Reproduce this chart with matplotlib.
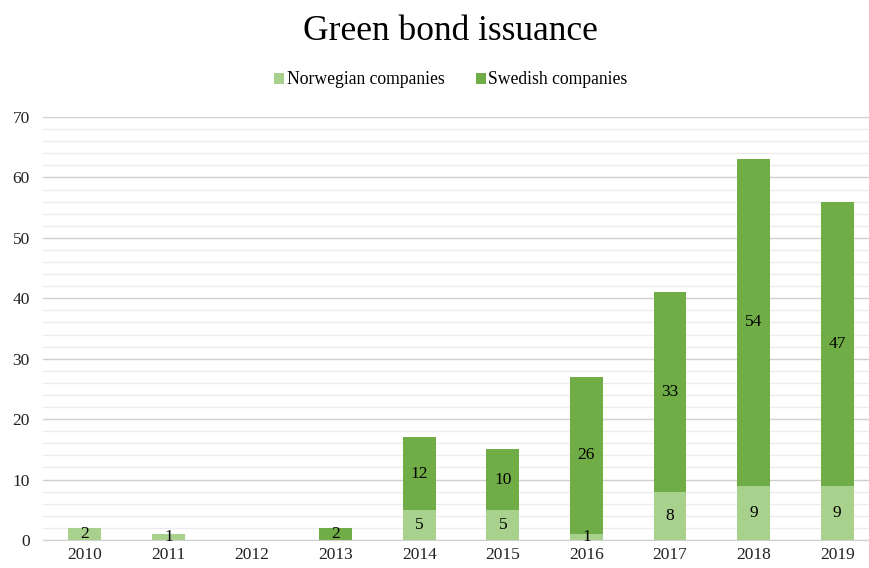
import matplotlib.pyplot as plt
from matplotlib.ticker import MultipleLocator
import numpy as np

years = ["2010", "2011", "2012", "2013", "2014", "2015", "2016", "2017", "2018", "2019"]
norwegian = [2, 1, 0, 0, 5, 5, 1, 8, 9, 9]
swedish = [0, 0, 0, 2, 12, 10, 26, 33, 54, 47]

light_green = "#a9d18e"
dark_green = "#70ad47"

plt.rcParams["font.family"] = ["Liberation Serif", "DejaVu Serif"]

fig = plt.figure(figsize=(8.69, 5.68), dpi=100)
W, H = 869, 568
left, right, top, bottom = 43, 869, 117, 540
ax = fig.add_axes([left / W, 1 - bottom / H, (right - left) / W, (bottom - top) / H])

x = np.arange(len(years))
width = 0.39
b1 = ax.bar(x, norwegian, width, color=light_green, label="Norwegian companies", zorder=3)
b2 = ax.bar(x, swedish, width, bottom=norwegian, color=dark_green, label="Swedish companies", zorder=3)

for rect, v in zip(b1, norwegian):
    if v:
        ax.text(rect.get_x() + rect.get_width() / 2, rect.get_y() + v / 2, str(v),
                ha="center", va="center", fontsize=12.5, color="black", zorder=4)
for rect, v, base in zip(b2, swedish, norwegian):
    if v:
        ax.text(rect.get_x() + rect.get_width() / 2, base + v / 2, str(v),
                ha="center", va="center", fontsize=12.5, color="black", zorder=4)

ax.set_ylim(0, 70)
ax.set_xlim(-0.5, -0.5 + (right - left) / 83.6)
ax.yaxis.set_major_locator(MultipleLocator(10))
ax.yaxis.set_minor_locator(MultipleLocator(2))
ax.grid(axis="y", which="major", color="#d0d0d0", linewidth=1.0, zorder=0)
ax.grid(axis="y", which="minor", color="#ececec", linewidth=1.0, zorder=0)
ax.set_xticks(x)
ax.set_xticklabels(years)
ax.tick_params(axis="both", which="both", length=0, labelsize=12.5, colors="#222222")
ax.tick_params(axis="y", pad=9.5)
ax.tick_params(axis="x", pad=5)
for s in ["top", "right", "left"]:
    ax.spines[s].set_visible(False)
ax.spines["bottom"].set_color("#d0d0d0")
ax.set_axisbelow(True)

fig.text(450 / W, 1 - 32 / H, "Green bond issuance", ha="center", va="center", fontsize=25.5)
fig.legend(handles=[b1, b2], labels=["Norwegian companies", "Swedish companies"],
           loc="center", bbox_to_anchor=(451 / W, 1 - 80 / H), ncol=2, frameon=False,
           fontsize=12.7, handlelength=0.55, handleheight=0.55, handletextpad=0.15,
           columnspacing=1.8)

fig.savefig("out.png", dpi=100)
